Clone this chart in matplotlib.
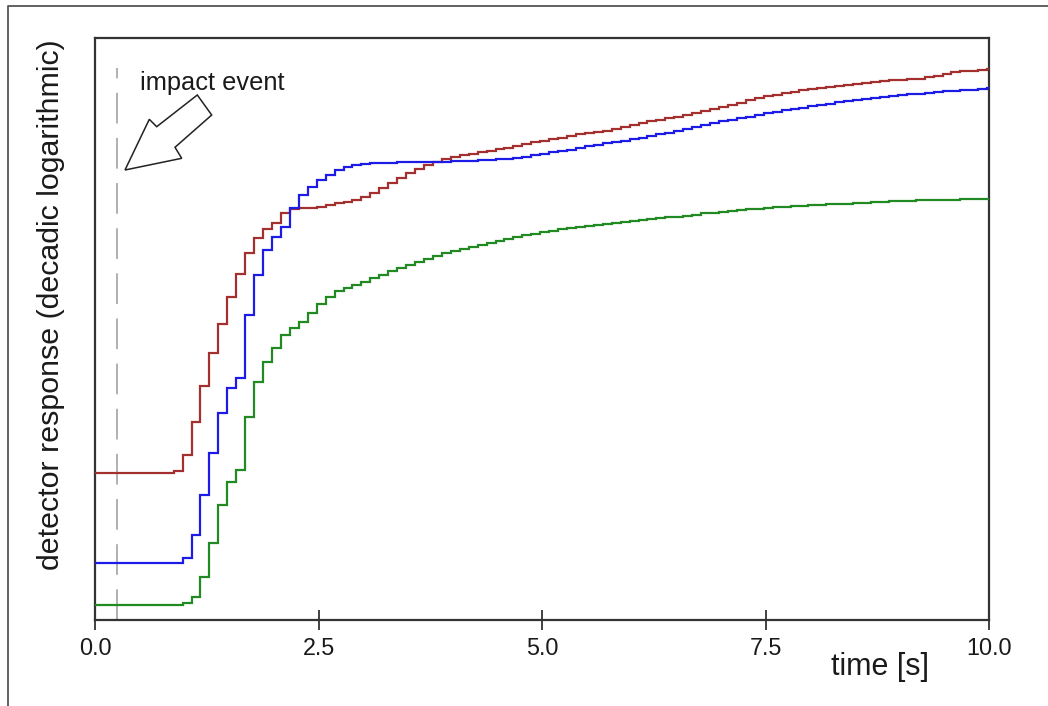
import numpy as np
import matplotlib
matplotlib.use("Agg")
import matplotlib.pyplot as plt
from matplotlib.patches import Polygon
from matplotlib.lines import Line2D

plt.rcParams['font.family'] = ['Liberation Sans', 'DejaVu Sans']

# sampling: 0.1 s bins, first bin starts at -0.02 s
bin_width = 0.1
first_edge = -0.02

red_values = [1.467] * 9 + [
    1.49, 1.65, 1.983, 2.34, 2.67, 2.957, 3.233, 3.46, 3.667, 3.817, 3.907, 3.973,
    4.067, 4.107, 4.117, 4.125, 4.133, 4.15, 4.167,
    4.185, 4.20, 4.23, 4.27, 4.32, 4.37, 4.42, 4.47, 4.51, 4.55, 4.585, 4.61, 4.63,
    4.65, 4.665, 4.68, 4.695, 4.71, 4.725, 4.74, 4.76, 4.775, 4.79, 4.81, 4.825,
    4.84, 4.855, 4.87, 4.885, 4.895, 4.91, 4.93, 4.95, 4.97, 4.99, 5.005, 5.02,
    5.035, 5.05, 5.07, 5.09, 5.115, 5.135, 5.155, 5.175, 5.20, 5.22, 5.24, 5.255,
    5.275, 5.285, 5.30, 5.31, 5.32, 5.33, 5.34, 5.35, 5.36, 5.37, 5.38, 5.395,
    5.40, 5.405, 5.41, 5.41, 5.43, 5.445, 5.465, 5.48, 5.49, 5.495, 5.505, 5.51]

blue_values = [0.567] * 10 + [
    0.617, 0.85, 1.25, 1.673, 2.067, 2.317, 2.417, 3.05, 3.45, 3.70, 3.827, 3.933,
    4.117, 4.25, 4.333, 4.40, 4.45, 4.50,
    4.53, 4.55, 4.56, 4.567, 4.572, 4.575, 4.577, 4.577, 4.577, 4.578, 4.58, 4.583,
    4.587, 4.59, 4.593, 4.597, 4.60, 4.607, 4.615, 4.625, 4.635, 4.648, 4.662,
    4.677, 4.69, 4.705, 4.72, 4.737, 4.752, 4.767, 4.782, 4.795, 4.81, 4.825,
    4.84, 4.855, 4.87, 4.89, 4.91, 4.93, 4.95, 4.967, 4.985, 5.00, 5.017, 5.035,
    5.05, 5.065, 5.08, 5.097, 5.11, 5.123, 5.137, 5.15, 5.163, 5.177, 5.19, 5.202,
    5.212, 5.222, 5.231, 5.24, 5.248, 5.257, 5.265, 5.272, 5.279, 5.286, 5.292,
    5.299, 5.305, 5.311, 5.317]

green_values = [0.15] * 10 + [
    0.167, 0.227, 0.433, 0.767, 1.15, 1.383, 1.50, 2.033, 2.38, 2.58, 2.717, 2.85,
    2.917, 2.977, 3.067, 3.16, 3.233, 3.29,
    3.32, 3.35, 3.385, 3.42, 3.455, 3.49, 3.525, 3.555, 3.585, 3.615, 3.645, 3.67,
    3.695, 3.715, 3.735, 3.755, 3.775, 3.795, 3.815, 3.833, 3.85, 3.865, 3.88,
    3.895, 3.907, 3.917, 3.927, 3.937, 3.948, 3.959, 3.97, 3.98, 3.99, 4.00, 4.007,
    4.017, 4.027, 4.035, 4.043, 4.055, 4.065, 4.075, 4.085, 4.092, 4.10, 4.107,
    4.114, 4.12, 4.126, 4.132, 4.137, 4.142, 4.147, 4.151, 4.156, 4.16, 4.164,
    4.168, 4.173, 4.178, 4.182, 4.186, 4.19, 4.194, 4.197, 4.199, 4.201, 4.203,
    4.204, 4.206, 4.207, 4.209, 4.21]

impact_time = 0.246
impact_top = 5.52
x_ticks = [0.0, 2.5, 5.0, 7.5, 10.0]
x_tick_labels = ['0.0', '2.5', '5.0', '7.5', '10.0']

W, H = 1048, 706
fig = plt.figure(figsize=(W / 100, H / 100), dpi=100)
ax = fig.add_axes([95 / W, (H - 620) / H, 894 / W, 582 / H])
ax.set_xlim(0, 10)
ax.set_ylim(0, 5.82)

series = [(red_values, '#a3302e'), (blue_values, '#1c1ce6'), (green_values, '#228a22')]
for vals, col in series:
    edges = first_edge + bin_width * np.arange(len(vals) + 1)
    ax.stairs(vals, edges, baseline=None, color=col, linewidth=1.6, zorder=3)

ax.plot([impact_time, impact_time], [0, impact_top], color='#aaaaaa', linewidth=1.3,
        dashes=(17, 8), zorder=2)

ax.set_xticks(x_ticks)
ax.set_xticklabels(x_tick_labels)
ax.set_yticks([])
ax.tick_params(axis='x', direction='inout', length=14, width=1.3, colors='#333333',
               labelsize=16.8, pad=5.5, labelcolor='#1a1a1a')
for sp in ax.spines.values():
    sp.set_linewidth(1.6)
    sp.set_color('#333333')

# annotation arrow (hollow) in figure pixels
pts = [(125, 170), (149.3, 119.3), (156.7, 126.7), (197.3, 95), (211.7, 115),
       (175, 147.3), (181.7, 158.3)]
poly = Polygon([(x, H - y) for x, y in pts], closed=True, fill=False,
               edgecolor='#222222', linewidth=1.1, transform=None, zorder=5)
fig.patches.append(poly)

fig.text(140 / W, (H - 90) / H, 'impact event', fontsize=18.3, color='#1a1a1a',
         ha='left', va='baseline')
fig.text(880 / W, (H - 667) / H, 'time [s]', fontsize=22, color='#1a1a1a',
         ha='center', va='center')
fig.text(51 / W, (H - 305) / H, 'detector response (decadic logarithmic)', fontsize=21.9,
         color='#1a1a1a', rotation=90, ha='center', va='center')

# outer frame (left and top edges)
fig.add_artist(Line2D([8 / W, 8 / W, 1.0], [0.0, (H - 6) / H, (H - 6) / H],
                      transform=fig.transFigure, color='#555555', linewidth=1.3))

fig.savefig('out.png', dpi=100)
